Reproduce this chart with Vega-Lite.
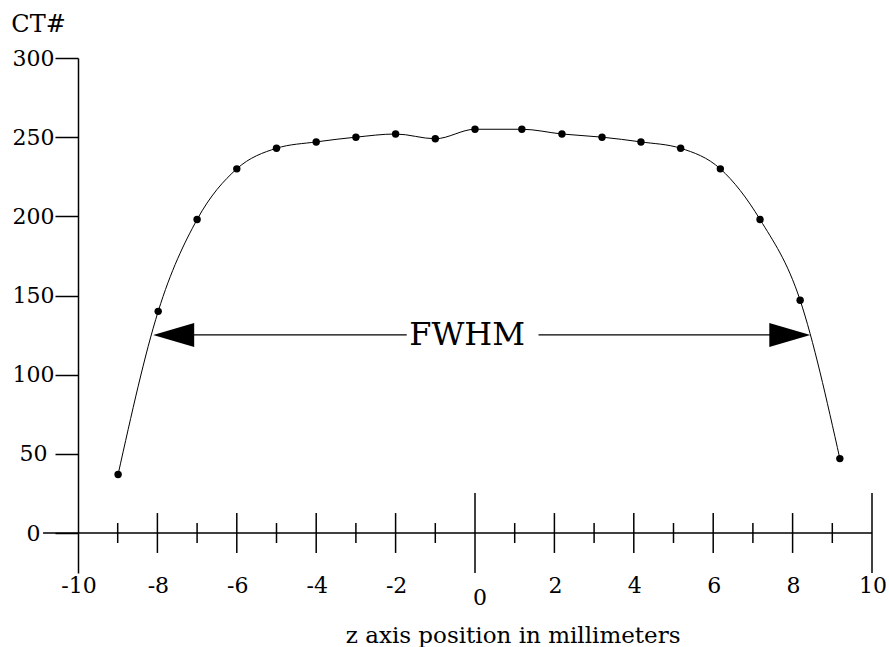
{
  "$schema": "https://vega.github.io/schema/vega-lite/v6.json",
  "width": 794,
  "height": 515,
  "autosize": {"type": "none"},
  "padding": {"left": 78, "top": 58, "right": 17, "bottom": 74},
  "background": "white",
  "config": {"view": {"stroke": null}},
  "datasets": {
    "profile": [
      {"z": -8.99, "ct": 37},
      {"z": -7.98, "ct": 140},
      {"z": -7.0, "ct": 198},
      {"z": -6.0, "ct": 230},
      {"z": -5.0, "ct": 243},
      {"z": -4.0, "ct": 247},
      {"z": -3.0, "ct": 250},
      {"z": -2.0, "ct": 252},
      {"z": -1.0, "ct": 249},
      {"z": 0.0, "ct": 255},
      {"z": 1.18, "ct": 255},
      {"z": 2.19, "ct": 252},
      {"z": 3.2, "ct": 250},
      {"z": 4.18, "ct": 247},
      {"z": 5.18, "ct": 243},
      {"z": 6.18, "ct": 230},
      {"z": 7.18, "ct": 198},
      {"z": 8.19, "ct": 147},
      {"z": 9.19, "ct": 47}
    ],
    "ticks": [
      {"v": -10}, {"v": -9}, {"v": -8}, {"v": -7}, {"v": -6}, {"v": -5}, {"v": -4},
      {"v": -3}, {"v": -2}, {"v": -1}, {"v": 0}, {"v": 1}, {"v": 2}, {"v": 3},
      {"v": 4}, {"v": 5}, {"v": 6}, {"v": 7}, {"v": 8}, {"v": 9}, {"v": 10}
    ],
    "one": [{"k": 1}]
  },
  "layer": [
    {
      "data": {"name": "profile"},
      "mark": {"type": "line", "color": "black", "strokeWidth": 1, "interpolate": "monotone"},
      "encoding": {
        "x": {"field": "z", "type": "quantitative", "scale": {"domain": [-10, 10], "nice": false, "zero": false}, "axis": null},
        "y": {
          "field": "ct",
          "type": "quantitative",
          "scale": {"domain": [-25.26, 300], "nice": false, "zero": false},
          "axis": {
            "values": [0, 50, 100, 150, 200, 250, 300],
            "title": "CT#",
            "titleAngle": 0,
            "titleX": -40,
            "titleY": -34,
            "titleAlign": "center",
            "titleBaseline": "middle",
            "titleFont": "DejaVu Serif",
            "titleFontSize": 24,
            "titleFontWeight": "normal",
            "titleColor": "black",
            "domainColor": "black",
            "domainWidth": 1.5,
            "tickColor": "black",
            "tickWidth": 1.5,
            "tickSize": 23,
            "labelFont": "DejaVu Serif",
            "labelFontSize": 22,
            "labelColor": "black",
            "labelAlign": "center",
            "labelBaseline": "middle",
            "labelPadding": 22,
            "labelFlush": false,
            "labelOverlap": false,
            "grid": false
          }
        }
      }
    },
    {
      "data": {"name": "profile"},
      "mark": {"type": "point", "shape": "circle", "size": 55, "filled": true, "color": "black", "opacity": 1},
      "encoding": {
        "x": {"field": "z", "type": "quantitative"},
        "y": {"field": "ct", "type": "quantitative"}
      }
    },
    {
      "data": {"name": "one"},
      "mark": {"type": "rule", "color": "black", "strokeWidth": 1.5},
      "encoding": {
        "x": {"datum": -10.88, "type": "quantitative"},
        "x2": {"datum": 10},
        "y": {"datum": 0, "type": "quantitative"}
      }
    },
    {
      "data": {"name": "ticks"},
      "transform": [{"filter": "datum.v % 2 != 0"}],
      "mark": {"type": "rule", "color": "black", "strokeWidth": 1.5},
      "encoding": {
        "x": {"field": "v", "type": "quantitative"},
        "y": {"datum": -6.3, "type": "quantitative"},
        "y2": {"datum": 6.3}
      }
    },
    {
      "data": {"name": "ticks"},
      "transform": [{"filter": "datum.v % 2 == 0 && datum.v != 0 && datum.v != 10 && datum.v != -10"}],
      "mark": {"type": "rule", "color": "black", "strokeWidth": 1.5},
      "encoding": {
        "x": {"field": "v", "type": "quantitative"},
        "y": {"datum": -12.6, "type": "quantitative"},
        "y2": {"datum": 12.6}
      }
    },
    {
      "data": {"name": "ticks"},
      "transform": [{"filter": "datum.v == 0 || datum.v == 10"}],
      "mark": {"type": "rule", "color": "black", "strokeWidth": 1.5},
      "encoding": {
        "x": {"field": "v", "type": "quantitative"},
        "y": {"datum": -25.26, "type": "quantitative"},
        "y2": {"datum": 25.26}
      }
    },
    {
      "data": {"name": "ticks"},
      "transform": [{"filter": "datum.v % 2 == 0 && datum.v != 0"}],
      "mark": {"type": "text", "font": "DejaVu Serif", "fontSize": 22, "color": "black", "align": "center", "baseline": "alphabetic", "dx": 1},
      "encoding": {
        "x": {"field": "v", "type": "quantitative"},
        "y": {"datum": -37.9, "type": "quantitative"},
        "text": {"field": "v", "type": "nominal"}
      }
    },
    {
      "data": {"name": "ticks"},
      "transform": [{"filter": "datum.v == 0"}],
      "mark": {"type": "text", "font": "DejaVu Serif", "fontSize": 22, "color": "black", "align": "center", "baseline": "alphabetic", "dx": 5},
      "encoding": {
        "x": {"field": "v", "type": "quantitative"},
        "y": {"datum": -45.5, "type": "quantitative"},
        "text": {"field": "v", "type": "nominal"}
      }
    },
    {
      "data": {"name": "one"},
      "mark": {"type": "text", "font": "DejaVu Serif", "fontSize": 23, "color": "black", "align": "center", "baseline": "alphabetic"},
      "encoding": {
        "x": {"datum": 0.96, "type": "quantitative"},
        "y": {"datum": -69.5, "type": "quantitative"},
        "text": {"value": "z axis position in millimeters"}
      }
    },
    {
      "data": {"name": "one"},
      "mark": {"type": "rule", "color": "black", "strokeWidth": 1.2},
      "encoding": {
        "x": {"datum": -7.1, "type": "quantitative"},
        "x2": {"datum": -1.72},
        "y": {"datum": 125.1, "type": "quantitative"}
      }
    },
    {
      "data": {"name": "one"},
      "mark": {"type": "rule", "color": "black", "strokeWidth": 1.2},
      "encoding": {
        "x": {"datum": 1.6, "type": "quantitative"},
        "x2": {"datum": 7.45},
        "y": {"datum": 125.1, "type": "quantitative"}
      }
    },
    {
      "data": {"name": "one"},
      "mark": {"type": "point", "shape": "M-1,0L1,-0.585L1,0.585Z", "size": 1681, "filled": true, "color": "black", "opacity": 1, "strokeWidth": 0},
      "encoding": {
        "x": {"datum": -7.59, "type": "quantitative"},
        "y": {"datum": 125.1, "type": "quantitative"}
      }
    },
    {
      "data": {"name": "one"},
      "mark": {"type": "point", "shape": "M1,0L-1,-0.585L-1,0.585Z", "size": 1681, "filled": true, "color": "black", "opacity": 1, "strokeWidth": 0},
      "encoding": {
        "x": {"datum": 7.93, "type": "quantitative"},
        "y": {"datum": 125.1, "type": "quantitative"}
      }
    },
    {
      "data": {"name": "one"},
      "mark": {"type": "text", "font": "DejaVu Serif", "fontSize": 32, "color": "black", "align": "center", "baseline": "alphabetic"},
      "encoding": {
        "x": {"datum": -0.2, "type": "quantitative"},
        "y": {"datum": 118.8, "type": "quantitative"},
        "text": {"value": "FWHM"}
      }
    }
  ]
}
